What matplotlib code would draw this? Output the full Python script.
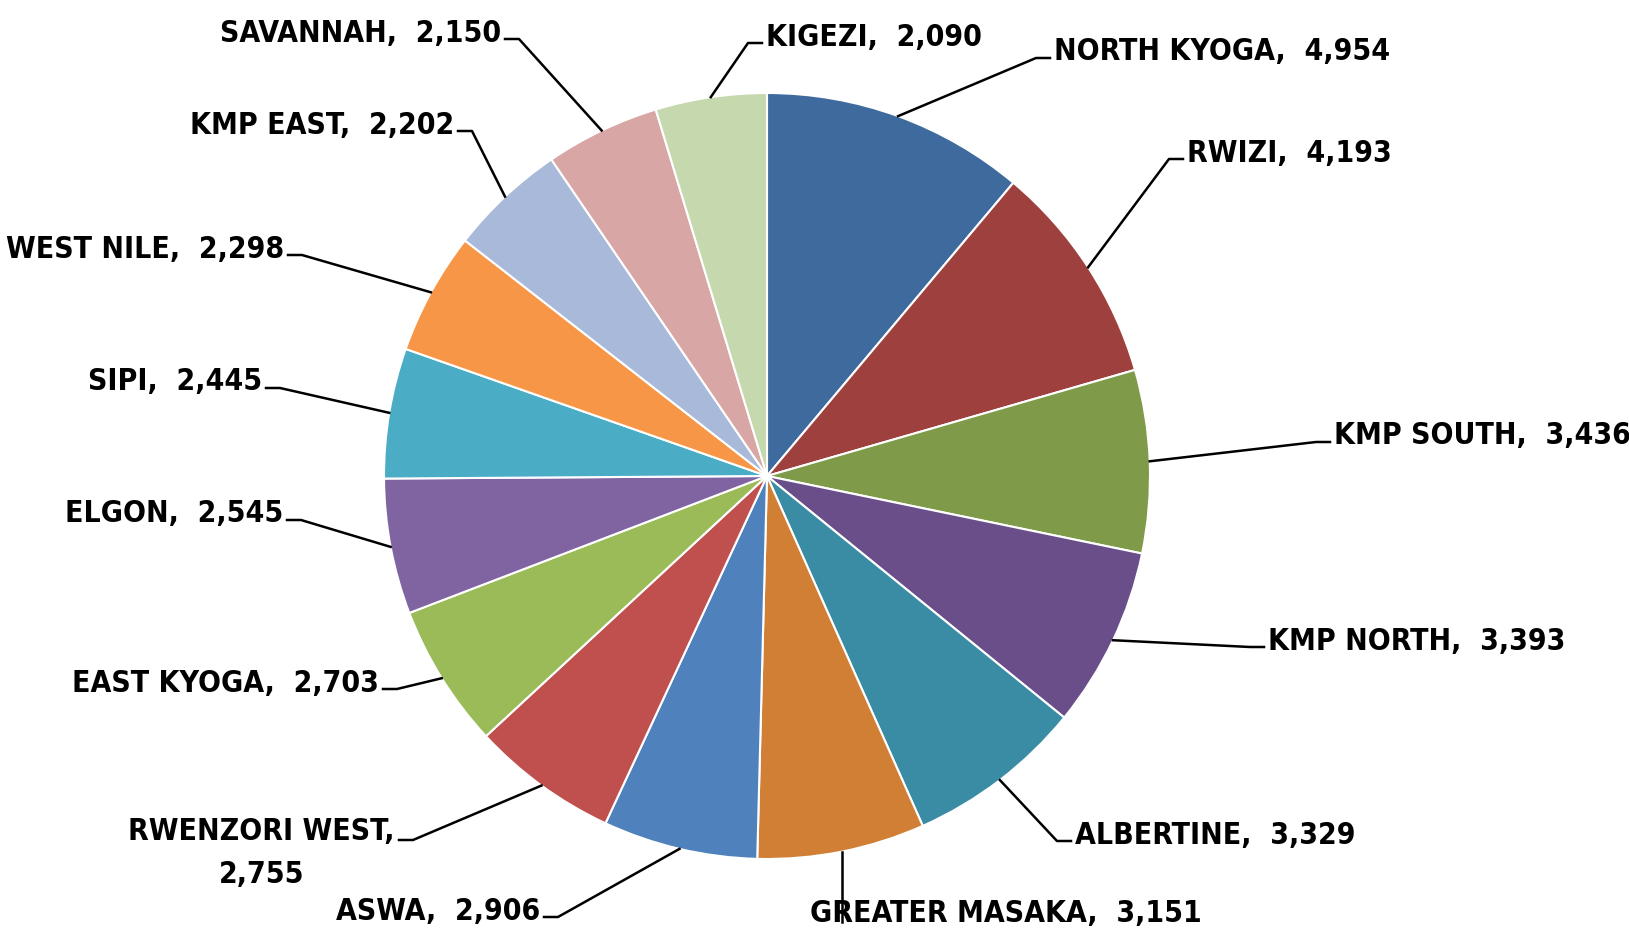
import numpy as np
import matplotlib
matplotlib.use("Agg")
import matplotlib.pyplot as plt
from matplotlib import font_manager

regions = ['NORTH KYOGA', 'RWIZI', 'KMP SOUTH', 'KMP NORTH', 'ALBERTINE',
           'GREATER MASAKA', 'ASWA', 'RWENZORI WEST', 'EAST KYOGA', 'ELGON',
           'SIPI', 'WEST NILE', 'KMP EAST', 'SAVANNAH', 'KIGEZI']
counts = [4954, 4193, 3436, 3393, 3329, 3151, 2906, 2755, 2703, 2545,
          2445, 2298, 2202, 2150, 2090]
colors = ['#3F6A9E', '#9E403D', '#7F9B4A', '#6A4E8A', '#3A8CA5',
          '#D07F35', '#4F81BD', '#C0504D', '#9BBB59', '#8064A2',
          '#4BACC6', '#F79646', '#A8B9DA', '#D9A6A6', '#C6D8AD']

W, H = 1629, 931
cx, cy, R = 767, 476, 383

# label text anchor in image pixels: (x, y, side)
label_pos = [(1054, 52, 'r'), (1187, 153, 'r'), (1334, 436, 'r'),
             (1268, 641, 'r'), (1075, 835, 'r'), (810, 914, 'b'),
             (540, 911, 'l'), (395, 834, 'l'), (379, 683, 'l'),
             (283, 514, 'l'), (262, 382, 'l'), (284, 249, 'l'),
             (454, 125, 'l'), (501, 33, 'l'), (766, 37, 'r')]

# pick a narrow bold font if one is there
fonts = font_manager.fontManager.ttflist
names = {f.name for f in fonts}
font_kw = {}
if 'Liberation Sans Narrow' in names:
    font_kw = dict(family=['Liberation Sans Narrow', 'DejaVu Sans'])
elif any(f.name == 'DejaVu Sans' and f.stretch == 'condensed' for f in fonts):
    font_kw = dict(family=['DejaVu Sans'], fontstretch='condensed')
else:
    font_kw = dict(family=['Lato', 'DejaVu Sans'])

fig = plt.figure(figsize=(W / 100, H / 100), dpi=100)
ax = fig.add_axes([0, 0, 1, 1])
wedges, _ = ax.pie(counts, colors=colors, startangle=90, counterclock=False,
                   center=(cx, H - cy), radius=R,
                   wedgeprops=dict(edgecolor='white', linewidth=1.5))
ax.set_xlim(0, W)
ax.set_ylim(0, H)
ax.set_aspect('equal')
ax.axis('off')

# size the font so "SAVANNAH,  2,150" is about as wide as in the reference
probe = ax.text(0, 0, 'SAVANNAH,  2,150', fontsize=20, fontweight='bold', **font_kw)
fig.canvas.draw()
pw = probe.get_window_extent().width
probe.remove()
fs = 20 * 281 / pw

for w, name, n, (tx, ty, side) in zip(wedges, regions, counts, label_pos):
    mid = np.deg2rad((w.theta1 + w.theta2) / 2)
    ex = cx + R * np.cos(mid)
    ey = (H - cy) + R * np.sin(mid)
    txt = f'{name},  {n:,}'
    yd = H - ty
    kw = dict(fontsize=fs, fontweight='bold', color='black', **font_kw)
    if side == 'r':
        ax.plot([ex, tx - 18, tx - 4], [ey, yd - 6, yd - 6], color='black', lw=1.8)
        ax.text(tx, yd, txt, ha='left', va='center', **kw)
    elif side == 'l' and name == 'RWENZORI WEST':
        ax.plot([ex, tx + 18, tx + 4], [ey, yd - 6, yd - 6], color='black', lw=1.8)
        ax.text(tx, yd + 17, f'{name},\n{n:,}', ha='right', va='top',
                multialignment='center', linespacing=1.6, **kw)
    elif side == 'l':
        ax.plot([ex, tx + 18, tx + 4], [ey, yd - 6, yd - 6], color='black', lw=1.8)
        ax.text(tx, yd, txt, ha='right', va='center', **kw)
    else:
        ax.plot([ex, ex], [ey, yd - 8], color='black', lw=1.8)
        ax.text(tx, yd, txt, ha='left', va='center', **kw)

fig.savefig('out.png', dpi=100, facecolor='white')
